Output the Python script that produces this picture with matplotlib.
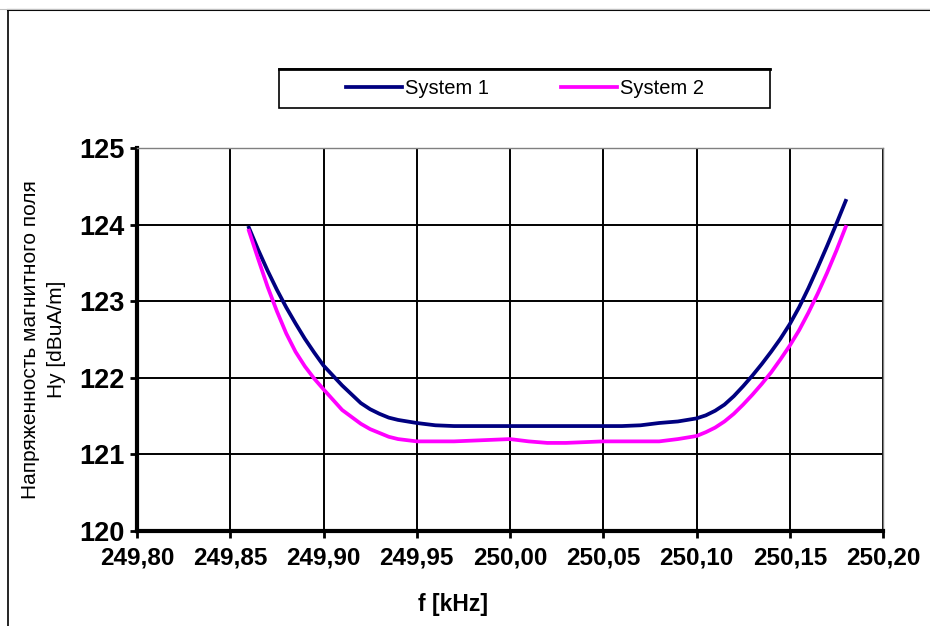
import matplotlib
matplotlib.use('Agg')
import matplotlib.pyplot as plt
from matplotlib.lines import Line2D
from matplotlib.patches import Rectangle
from matplotlib.ticker import FuncFormatter, MultipleLocator

plt.rcParams['font.family'] = ['Liberation Sans', 'DejaVu Sans']

# frequency, kHz
freq = [249.860, 249.865, 249.870, 249.875, 249.880, 249.885, 249.890, 249.895, 249.900,
        249.910, 249.920, 249.925, 249.930, 249.935, 249.940, 249.950, 249.960, 249.970,
        249.980, 249.990, 250.000, 250.010, 250.020, 250.030, 250.040, 250.050, 250.060,
        250.070, 250.080, 250.090, 250.100, 250.105, 250.110, 250.115, 250.120, 250.125,
        250.130, 250.135, 250.140, 250.145, 250.150, 250.155, 250.160, 250.165, 250.170,
        250.175, 250.180]

# Hy [dBuA/m]
system1 = [123.96, 123.67, 123.40, 123.15, 122.92, 122.71, 122.51, 122.33, 122.16,
           121.90, 121.67, 121.59, 121.53, 121.48, 121.45, 121.41, 121.38, 121.37,
           121.37, 121.37, 121.37, 121.37, 121.37, 121.37, 121.37, 121.37, 121.37,
           121.38, 121.41, 121.43, 121.47, 121.51, 121.57, 121.65, 121.76, 121.89,
           122.03, 122.18, 122.34, 122.51, 122.70, 122.92, 123.17, 123.44, 123.72,
           124.01, 124.31]
system2 = [123.92, 123.55, 123.19, 122.87, 122.58, 122.34, 122.15, 121.99, 121.85,
           121.58, 121.40, 121.33, 121.28, 121.23, 121.20, 121.17, 121.17, 121.17,
           121.18, 121.19, 121.20, 121.17, 121.15, 121.15, 121.16, 121.17, 121.17,
           121.17, 121.17, 121.20, 121.24, 121.29, 121.35, 121.43, 121.53, 121.65,
           121.78, 121.92, 122.07, 122.24, 122.42, 122.62, 122.85, 123.10, 123.37,
           123.66, 123.97]

series_names = ['System 1', 'System 2']
series_colors = ['#000080', '#FF00FF']

W, H = 930, 626
fig = plt.figure(figsize=(W / 100, H / 100), dpi=100)
ax = fig.add_axes([137 / W, 1 - 531 / H, (883 - 137) / W, (531 - 148) / H])

l1, = ax.plot(freq, system1, color=series_colors[0], lw=2.7, label=series_names[0])
l2, = ax.plot(freq, system2, color=series_colors[1], lw=2.7, label=series_names[1])

ax.set_xlim(249.80, 250.20)
ax.set_ylim(120, 125)
ax.xaxis.set_major_locator(MultipleLocator(0.05))
ax.yaxis.set_major_locator(MultipleLocator(1))
ax.xaxis.set_major_formatter(FuncFormatter(lambda v, p: ('%.2f' % v).replace('.', ',')))
ax.yaxis.set_major_formatter(FuncFormatter(lambda v, p: '%d' % round(v)))
ax.grid(True, color='black', lw=1.4)
ax.set_axisbelow(True)

for s in ['left', 'bottom']:
    ax.spines[s].set_linewidth(3)
    ax.spines[s].set_color('black')
for s in ['top', 'right']:
    ax.spines[s].set_linewidth(1)
    ax.spines[s].set_color('#808080')

ax.tick_params(axis='both', direction='out', length=5, width=2, color='black')
ax.tick_params(axis='x', labelsize=17.5, pad=6)
ax.tick_params(axis='y', labelsize=19.5, pad=4)
for lab in ax.get_xticklabels() + ax.get_yticklabels():
    lab.set_fontweight('bold')

fig.text(453 / W, 1 - 604 / H, 'f [kHz]', fontsize=16.5, fontweight='bold',
         ha='center', va='center')
fig.text(43.5 / W, 1 - 339.5 / H, 'Напряженность магнитного поля\nHy [dBuA/m]',
         fontsize=15, rotation=90, ha='center', va='center',
         multialignment='center', linespacing=1.4)

# legend box
fig.add_artist(Rectangle((279 / W, 1 - 108 / H), 491 / W, 39 / H, transform=fig.transFigure,
                         fill=False, edgecolor='black', lw=1.2))
fig.add_artist(Line2D([279 / W, 770 / W], [1 - 69 / H, 1 - 69 / H], transform=fig.transFigure,
                      color='black', lw=2))
fig.legend(handles=[l1, l2], loc='center', bbox_to_anchor=(525 / W, 1 - 88.5 / H),
           ncol=2, frameon=False, fontsize=14.5, handlelength=2.75,
           handletextpad=0.15, columnspacing=3.6)

# outer frame
fig.add_artist(Line2D([7.5 / W, 7.5 / W], [0, 1 - 10 / H], transform=fig.transFigure,
                      color='black', lw=1.2))
fig.add_artist(Line2D([7.5 / W, 1], [1 - 10 / H, 1 - 10 / H], transform=fig.transFigure,
                      color='black', lw=1.5))
fig.add_artist(Line2D([0, 1], [1 - 8.5 / H, 1 - 8.5 / H], transform=fig.transFigure,
                      color='#c0c0c0', lw=0.8))

plt.savefig('out.png', dpi=100)
